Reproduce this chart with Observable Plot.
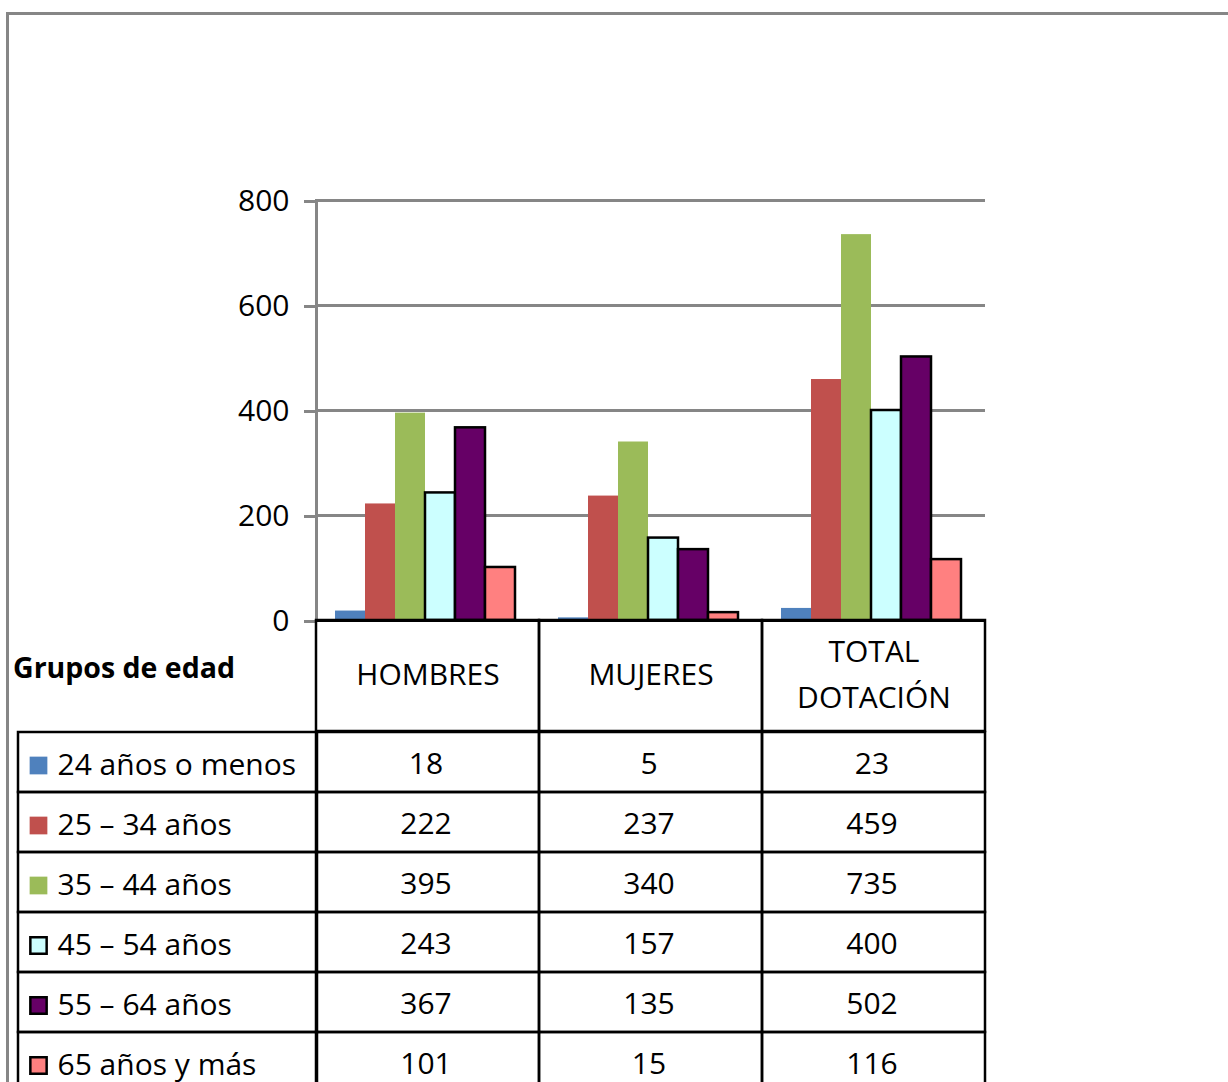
<!DOCTYPE html>
<html>
<head>
<meta charset="utf-8">
<script src="https://cdn.jsdelivr.net/npm/d3@7"></script>
<script src="https://cdn.jsdelivr.net/npm/@observablehq/plot@0.6"></script>
<style>
  html, body { margin: 0; padding: 0; background: #fff; }
  #root { position: relative; width: 1228px; height: 1082px; overflow: hidden; background: #fff; font-family: "Open Sans", sans-serif; }
  #frame { position: absolute; left: 6px; top: 12px; width: 1400px; height: 1400px; border-left: 3px solid #868686; border-top: 3px solid #868686; }
  .abs { position: absolute; }
  #grupos { position: absolute; left: 13px; top: 653px; font-weight: bold; font-size: 28.5px; line-height: 1; color: #000; }
</style>
</head>
<body>
<div id="root">
  <div id="frame"></div>
  <div id="chart" class="abs" style="left:0;top:0"></div>
  <div id="header" class="abs" style="left:0;top:618px"></div>
  <div id="labels" class="abs" style="left:16px;top:727px"></div>
  <div id="values" class="abs" style="left:0;top:727px"></div>
  <div id="grupos">Grupos de edad</div>
</div>
<script>
const groups = ["HOMBRES", "MUJERES", "TOTAL DOTACIÓN"];
const groupLabels = ["HOMBRES", "MUJERES", "TOTAL\nDOTACIÓN"];
const ages = ["24 años o menos", "25 – 34 años", "35 – 44 años", "45 – 54 años", "55 – 64 años", "65 años y más"];
const hombres = [18, 222, 395, 243, 367, 101];
const mujeres = [5, 237, 340, 157, 135, 15];
const total = [23, 459, 735, 400, 502, 116];
const colors = ["#4F81BD", "#C0504D", "#9BBB59", "#CCFFFF", "#660066", "#FF8080"];
const outlinedAges = ["45 – 54 años", "55 – 64 años", "65 años y más"];
const yTicks = [0, 200, 400, 600, 800];

const seriesByGroup = [hombres, mujeres, total];
const data = groups.flatMap((g, gi) => ages.map((a, ai) => ({group: g, age: a, value: seriesByGroup[gi][ai]})));
const isOutlined = d => outlinedAges.includes(d.age);

const font = {fontFamily: "Open Sans", fontSize: "30px", color: "black", background: "transparent", overflow: "visible"};

// Bar chart
const chart = Plot.plot({
  width: 1228, height: 622,
  marginTop: 200, marginBottom: 2, marginLeft: 315, marginRight: 243,
  fx: {domain: groups, padding: 0, axis: null},
  x: {domain: ages, paddingOuter: 0.7, paddingInner: 0, align: 0.44, axis: null},
  y: {domain: [0, 800], axis: null},
  color: {domain: ages, range: colors},
  style: font,
  marks: [
    Plot.ruleY(yTicks, {y: d => d, stroke: "#868686", strokeWidth: 3}),
    Plot.axisY({ticks: yTicks, tickSize: 12, tickPadding: 15, stroke: "#868686", strokeWidth: 3, fill: "black", fontSize: 30, label: null, tickFormat: d => String(d), dy: 1}),
    Plot.barY(data, {fx: "group", x: "age", y: "value", fill: "age", filter: d => !isOutlined(d)}),
    Plot.barY(data, {fx: "group", x: "age", y: "value", fill: "age", stroke: "black", strokeWidth: 2.5, filter: isOutlined}),
    Plot.frame({anchor: "left", stroke: "#868686", strokeWidth: 3, facet: "super"}),
    Plot.ruleY([0], {stroke: "black", strokeWidth: 3})
  ]
});
document.getElementById("chart").append(chart);

// Table header row
const header = Plot.plot({
  width: 1228, height: 113,
  marginTop: 2, marginBottom: 0, marginLeft: 315, marginRight: 243,
  x: {domain: groups, padding: 0, axis: null},
  style: font,
  marks: [
    Plot.cell(groups, {x: d => d, stroke: "black", strokeWidth: 2.5, fill: "none", inset: 0}),
    Plot.text(groups, {x: d => d, text: (d, i) => groupLabels[i], frameAnchor: "middle", lineHeight: 1.53, fontSize: 30, dy: -6})
  ]
});
document.getElementById("header").append(header);

// Table values
const cells = data;
const values = Plot.plot({
  width: 1228, height: 367,
  marginTop: 2, marginBottom: 0, marginLeft: 315, marginRight: 243,
  x: {domain: groups, padding: 0, axis: null},
  y: {domain: ages, padding: 0, axis: null},
  style: font,
  marks: [
    Plot.cell(cells, {x: "group", y: "age", stroke: "black", strokeWidth: 2.5, fill: "none", inset: 0}),
    Plot.text(cells, {x: "group", y: "age", text: d => String(d.value), fontSize: 30, dx: -2, dy: 2})
  ]
});
document.getElementById("values").append(values);

// Table row labels with legend swatches
const labels = Plot.plot({
  width: 301, height: 367,
  marginTop: 2, marginBottom: 0, marginLeft: 2, marginRight: 0,
  y: {domain: ages, padding: 0, axis: null},
  color: {domain: ages, range: colors},
  style: font,
  marks: [
    Plot.cell(ages, {y: d => d, stroke: "black", strokeWidth: 2.5, fill: "none", inset: 0}),
    Plot.dot(ages, {y: d => d, frameAnchor: "left", dx: 20, dy: 3, symbol: "square", r: 10, fill: d => d, filter: d => !outlinedAges.includes(d)}),
    Plot.dot(ages, {y: d => d, frameAnchor: "left", dx: 20, dy: 3, symbol: "square", r: 9.2, fill: d => d, stroke: "black", strokeWidth: 2.5, filter: d => outlinedAges.includes(d)}),
    Plot.text(ages, {y: d => d, frameAnchor: "left", dx: 39, dy: 3, text: d => d, textAnchor: "start", fontSize: 30})
  ]
});
document.getElementById("labels").append(labels);
</script>
</body>
</html>
